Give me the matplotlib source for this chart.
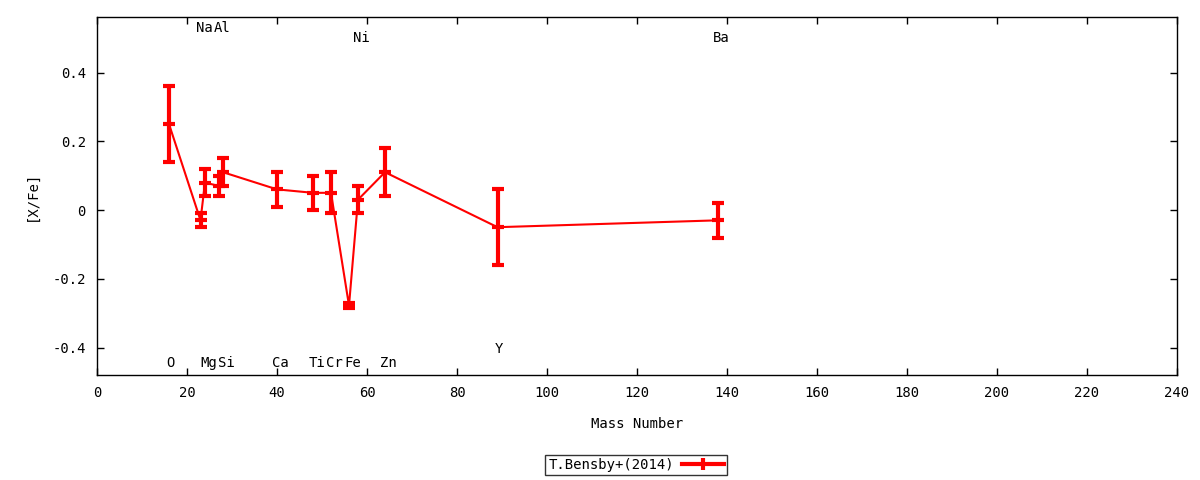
import matplotlib
matplotlib.use("Agg")
import matplotlib.pyplot as plt
from matplotlib.lines import Line2D

elements = ["O", "Na", "Mg", "Al", "Si", "Ca", "Ti", "Cr", "Fe", "Ni", "Zn", "Y", "Ba"]
mass = [16, 23, 24, 27, 28, 40, 48, 52, 56, 58, 64, 89, 138]
xfe = [0.25, -0.03, 0.08, 0.07, 0.11, 0.06, 0.05, 0.05, -0.278, 0.03, 0.11, -0.05, -0.03]
err = [0.11, 0.02, 0.04, 0.03, 0.04, 0.05, 0.05, 0.06, 0.008, 0.04, 0.07, 0.11, 0.05]
series_label = "T.Bensby+(2014)"

# label vertical placement (style)
label_y = {"O": -0.445, "Na": 0.53, "Mg": -0.445, "Al": 0.53, "Si": -0.445,
           "Ca": -0.445, "Ti": -0.445, "Cr": -0.445, "Fe": -0.445, "Ni": 0.50,
           "Zn": -0.445, "Y": -0.405, "Ba": 0.50}

plt.rcParams['font.family'] = ['DejaVu Sans Mono']
plt.rcParams['font.size'] = 10

fig = plt.figure(figsize=(12, 4.8), dpi=100)
ax = fig.add_axes([97/1200, 1-375/480, (1177-97)/1200, (375-17)/480])

red = "#ff0000"
ax.plot(mass, xfe, color=red, lw=1.5, zorder=2)
ax.errorbar(mass, xfe, yerr=err, fmt="none", ecolor=red, elinewidth=3,
            capsize=4, capthick=3, zorder=3)
ax.plot(mass, xfe, ls="none", marker="_", ms=9, mew=3, color=red, zorder=3)

for el, m in zip(elements, mass):
    ax.text(m + 0.5 * len(el) - 0.2, label_y[el], el, ha="center", va="center")

ax.set_xlim(0, 240)
ax.set_ylim(-0.48, 0.5615)
ax.set_xticks(range(0, 241, 20))
ax.set_yticks([-0.4, -0.2, 0, 0.2, 0.4])
ax.set_yticklabels(["-0.4", "-0.2", "0", "0.2", "0.4"])
ax.tick_params(direction="in", top=True, right=True, length=5, width=1, pad=8)
for s in ax.spines.values():
    s.set_linewidth(1)

ax.set_xlabel("Mass Number", labelpad=12)
ax.set_ylabel("[X/Fe]", labelpad=10)

handle = Line2D([0], [0], color=red, lw=3, marker="|", ms=9, mew=3)
leg = fig.legend([handle], [series_label], loc="center",
                 bbox_to_anchor=(636/1200, 1-465/480), markerfirst=False,
                 frameon=True, fancybox=False, edgecolor="black",
                 handlelength=3, borderpad=0.2, handletextpad=0.6)
leg.get_frame().set_linewidth(1)

fig.savefig("out.png", dpi=100)
